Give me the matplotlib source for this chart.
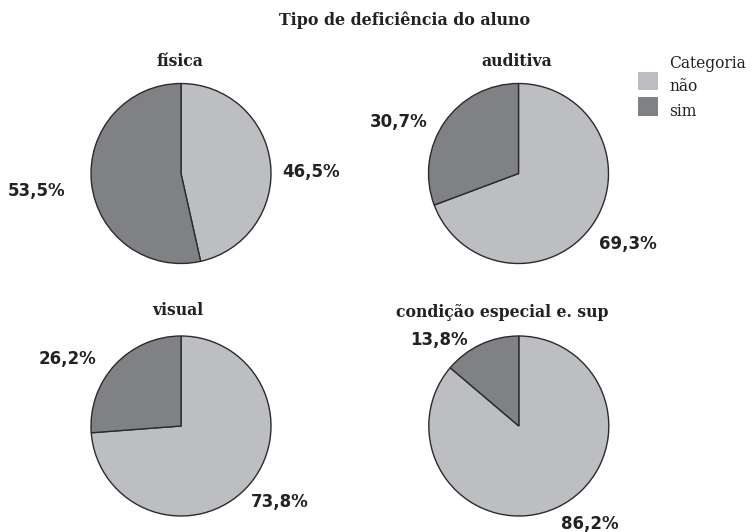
import matplotlib
matplotlib.use("Agg")
import matplotlib.pyplot as plt
from matplotlib.patches import Rectangle

# ---- data ----
groups = ["física", "auditiva", "visual", "condição especial e. sup"]
categories = ["não", "sim"]
nao_pct = [46.5, 69.3, 73.8, 86.2]
sim_pct = [53.5, 30.7, 26.2, 13.8]

# ---- layout (pixels, figure is 756x532) ----
W, H = 756, 532
R = 90.0                      # pie radius in px
CENTERS = [(181, 173.5), (518.5, 173.5), (181, 426), (518.8, 426)]
# subplot title positions in units of pie radius
TITLE_XY = [(-0.01, 1.25), (-0.02, 1.25), (-0.03, 1.28), (-0.18, 1.26)]
# outside label positions in units of pie radius (não, sim)
LABEL_POS = [
    [(1.45, 0.02), (-1.60, -0.19)],
    [(1.22, -0.78), (-1.33, 0.57)],
    [(1.10, -0.84), (-1.26, 0.74)],
    [(0.79, -1.09), (-0.89, 0.96)],
]

LIGHT = "#bdbec2"
DARK = "#808185"
EDGE = "#2b2b2b"
TXT = "#222222"
SERIF = "DejaVu Serif"

fig = plt.figure(figsize=(W / 100, H / 100), dpi=100)
fig.patch.set_facecolor("white")

half = 2.0 * R   # axes half-size in px -> limits of +-2 radii
for i, g in enumerate(groups):
    cx, cy = CENTERS[i]
    ax = fig.add_axes([(cx - half) / W, (H - cy - half) / H,
                       2 * half / W, 2 * half / H])
    ax.pie([nao_pct[i], sim_pct[i]], colors=[LIGHT, DARK],
           startangle=90, counterclock=False, radius=1.0,
           wedgeprops=dict(edgecolor=EDGE, linewidth=1.0))
    ax.set_xlim(-2, 2)
    ax.set_ylim(-2, 2)
    ax.set_aspect("equal")
    ax.axis("off")
    tx, ty = TITLE_XY[i]
    ax.text(tx, ty, g, ha="center", va="center", fontsize=11.3,
            fontweight="bold", family=SERIF, color=TXT)
    for (lx, ly), v in zip(LABEL_POS[i], [nao_pct[i], sim_pct[i]]):
        ax.text(lx, ly, f"{v:.1f}%".replace(".", ","), ha="center",
                va="center", fontsize=12, fontweight="bold",
                family="DejaVu Sans", color=TXT)

# ---- main title ----
fig.text(405 / W, 1 - 20 / H, "Tipo de deficiência do aluno", ha="center",
         va="center", fontsize=11.4, fontweight="bold", family=SERIF,
         color=TXT)

# ---- legend ----
fig.text(669 / W, 1 - 68 / H, "Categoria", ha="left", va="baseline",
         fontsize=11.2, family=SERIF, color=TXT)
for j, (lab, col) in enumerate(zip(categories, [LIGHT, DARK])):
    top = 72 + j * 25.5
    fig.add_artist(Rectangle((638 / W, 1 - (top + 18) / H), 20 / W, 18 / H,
                             transform=fig.transFigure, facecolor=col,
                             edgecolor="none"))
    fig.text(669 / W, 1 - (top + 19) / H, lab, ha="left", va="baseline",
             fontsize=11.2, family=SERIF, color=TXT)

plt.savefig("out.png", dpi=100, facecolor="white")
